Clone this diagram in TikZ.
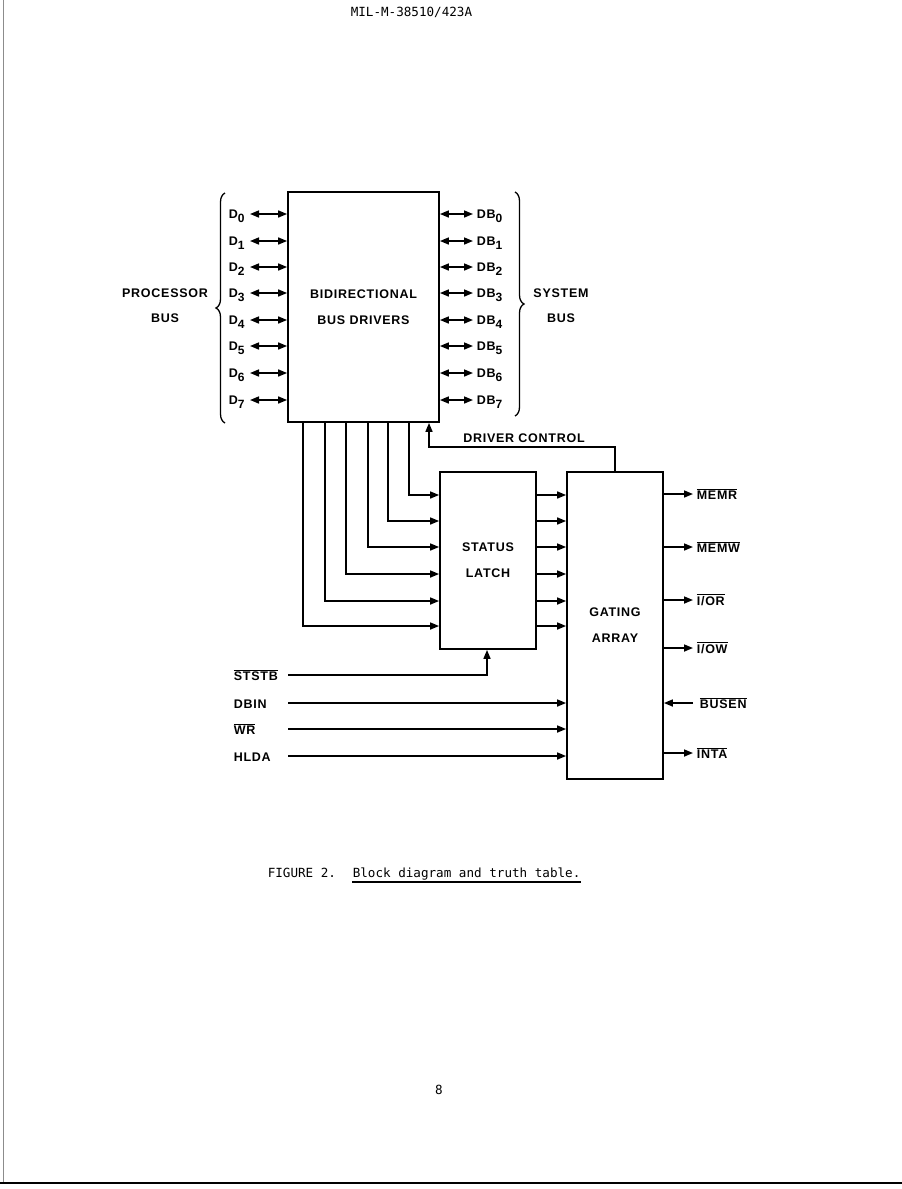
\documentclass[tikz,border=0pt]{standalone}
\usepackage{fontspec}
\setmainfont{Liberation Sans}
\newfontfamily\lblfont{Liberation Sans}[LetterSpace=6]
\newfontfamily\ttf{DejaVu Sans Mono}
\usetikzlibrary{arrows.meta,decorations.pathreplacing,calc}
\newcommand\sbx[1]{\raisebox{-3.5pt}{\fontsize{12}{12}\selectfont #1}}
\newcommand\ol[1]{$\overline{\mbox{#1}}$}
\begin{document}
\begin{tikzpicture}[x=1pt,y=-1pt, line width=1.6pt,
  >={Triangle[length=9pt,width=7pt]},
  lbl/.style={font=\lblfont\bfseries\fontsize{12.5}{25}\selectfont, inner sep=0pt},
  box/.style={draw, line width=1.8pt, inner sep=0pt, align=center,
    font=\lblfont\bfseries\fontsize{12.5}{26}\selectfont},
  tt/.style={font=\ttf\fontsize{12.6}{14}\selectfont, inner sep=0pt},
  brc/.style={line width=1.3pt, decorate, decoration={brace, amplitude=9pt}},
  ]
\useasboundingbox (0,0) rectangle (902,1189);
% page edges
\draw[line width=0.6pt, black!45] (3,0) -- (3,1183);
\draw[line width=2pt] (0,1183) -- (902,1183);
% header
\node[tt, anchor=base west] (hdr) at (350,16) {MIL-M-38510/423A};
% boxes
\node[box, minimum width=151pt, minimum height=230pt] (bd) at (363.5,307) {BIDIRECTIONAL\\BUS DRIVERS};
\node[box, minimum width=96pt, minimum height=177pt] (sl) at (488,560.5) {STATUS\\LATCH};
\node[box, minimum width=96pt, minimum height=307pt] (ga) at (615,625.5) {GATING\\ARRAY};
% data bus rows
\foreach \i/\y in {0/214,1/241,2/267,3/293,4/320,5/346,6/373,7/400}{
  \node[lbl, anchor=base west] (d\i) at (228,\y+4.5) {D\sbx{\i}};
  \coordinate (la\i) at (250,\y);
  \draw[<->] (la\i) -- (la\i -| bd.west);
  \coordinate (ra\i) at (473,\y);
  \draw[<->] (ra\i -| bd.east) -- (ra\i);
  \node[lbl, anchor=base west] (db\i) at (476,\y+4.5) {DB\sbx{\i}};
}
% braces
\coordinate (lb1) at (225,423); \coordinate (lb2) at (225,193);
\draw[brc] (lb1) -- (lb2);
\coordinate (rb1) at (515,192); \coordinate (rb2) at (515,416);
\draw[brc] (rb1) -- (rb2);
\node[lbl, align=center] (pb) at (165,306) {PROCESSOR\\BUS};
\node[lbl, align=center] (sb) at (561,306) {SYSTEM\\BUS};
% bus driver to status latch lines
\foreach \i/\x/\y in {0/303/626,1/325/601,2/346/574,3/368/547,4/388/521,5/409/495}{
  \coordinate (bx\i) at (\x,\y);
  \draw[->] (bx\i |- bd.south) |- (sl.west |- bx\i);
  \draw[->] (sl.east |- bx\i) -- (ga.west |- bx\i);
}
% driver control
\coordinate (dc) at (615,447);
\coordinate (dcu) at (429,447);
\draw[->] (ga.north -| dc) -- (dc) -- (dcu) -- (dcu |- bd.south);
\node[lbl, anchor=base] (dcl) at (524,442) {DRIVER CONTROL};
% bottom inputs
\node[lbl, anchor=base west] (ststb) at (233,680) {\ol{STSTB}};
\coordinate (s1) at (288,675); \coordinate (s2) at (487,675);
\draw[->] (s1) -- (s2) -- (s2 |- sl.south);
\foreach \n/\t/\y in {dbin/DBIN/703,wr/{\ol{WR}}/729,hlda/HLDA/756}{
  \node[lbl, anchor=base west] (\n) at (233,\y+5) {\t};
  \coordinate (\n c) at (288,\y);
  \draw[->] (\n c) -- (ga.west |- \n c);
}
% gating outputs
\foreach \n/\t/\y in {memr/MEMR/494,memw/MEMW/547,iorr/{I/OR}/600,ioww/{I/OW}/648,inta/INTA/753}{
  \coordinate (\n c) at (693,\y);
  \draw[->] (ga.east |- \n c) -- (\n c);
  \node[lbl, anchor=base west] (\n) at (696,\y+5) {\ol{\t}};
}
\coordinate (busenc) at (693,703);
\draw[->] (busenc) -- (ga.east |- busenc);
\node[lbl, anchor=base west] (busen) at (699,708) {\ol{BUSEN}};
% caption
\node[tt, anchor=base west] (cap1) at (267,877) {FIGURE 2.};
\node[tt, anchor=base west] (cap2) at (352,877) {Block diagram and truth table.};
\draw[line width=1.2pt] ($(cap2.base west)+(0,5)$) -- ($(cap2.base east)+(0,5)$);
\node[tt, anchor=base] (pg) at (439,1094) {8};
\end{tikzpicture}
\end{document}
